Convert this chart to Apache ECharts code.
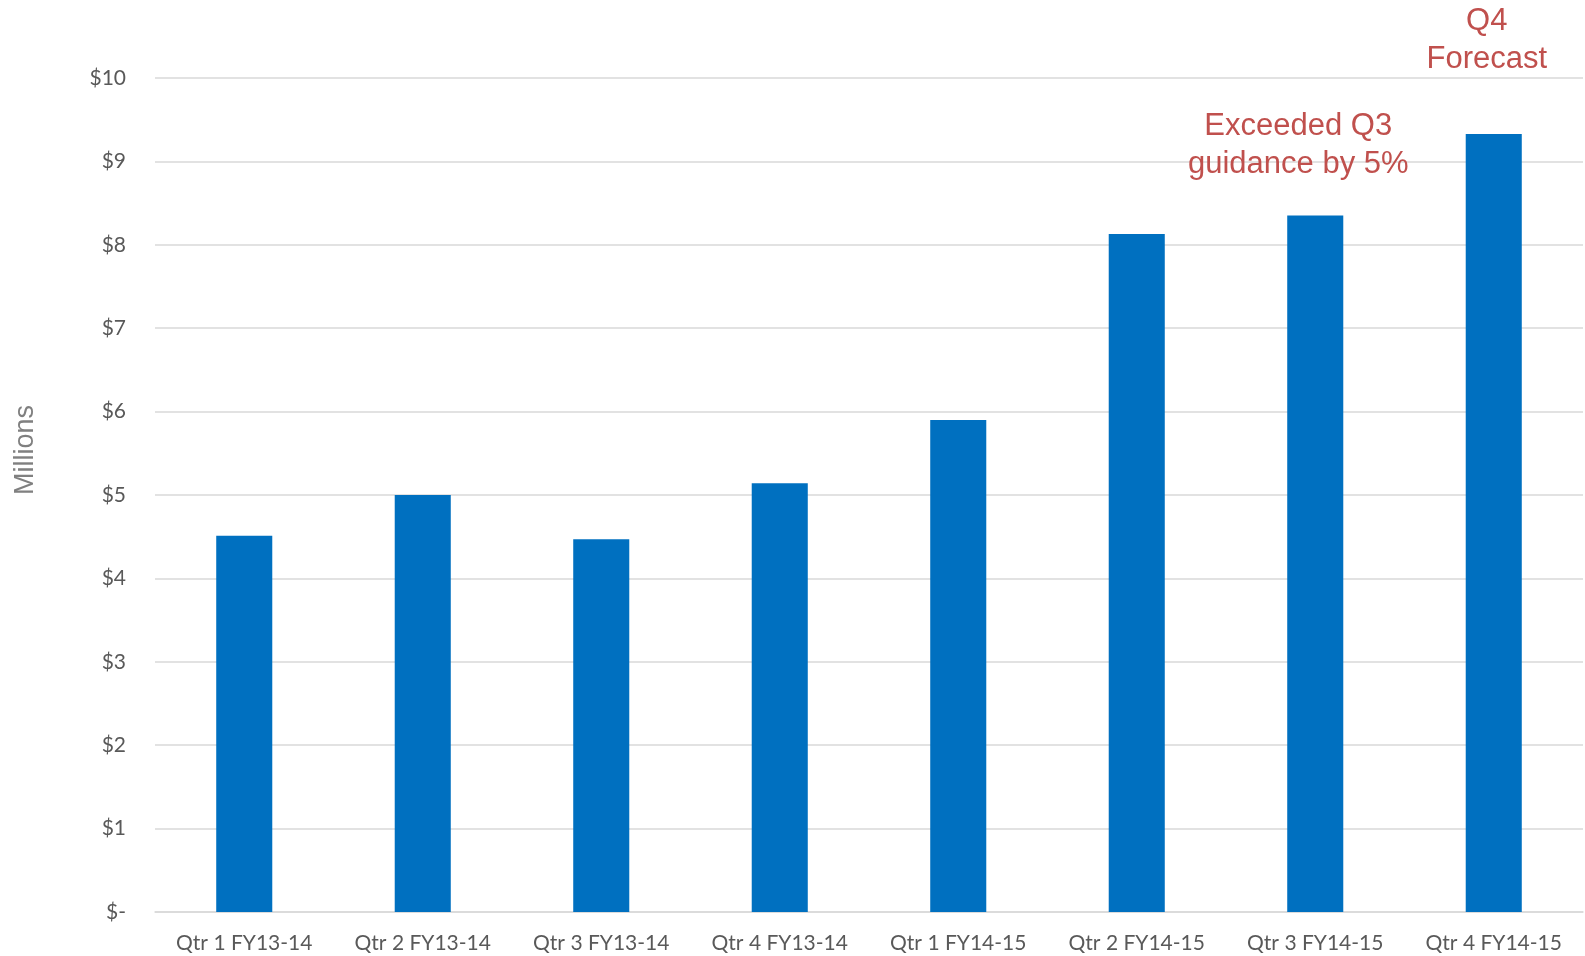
<!DOCTYPE html>
<html>
<head>
<meta charset="utf-8">
<script src="https://cdn.jsdelivr.net/npm/echarts@6/dist/echarts.min.js"></script>
<style>
html,body{margin:0;padding:0;background:#fff;}
#chart{width:1585px;height:956px;}
</style>
</head>
<body>
<div id="chart"></div>
<script>
const categories = ['Qtr 1 FY13-14','Qtr 2 FY13-14','Qtr 3 FY13-14','Qtr 4 FY13-14','Qtr 1 FY14-15','Qtr 2 FY14-15','Qtr 3 FY14-15','Qtr 4 FY14-15'];
const revenue = [4.51, 5.00, 4.47, 5.14, 5.90, 8.13, 8.35, 9.33];
const annotations = ['', '', '', '', '', '', 'Exceeded Q3\nguidance by 5%', 'Q4\nForecast'];
const yTicks = [0,1,2,3,4,5,6,7,8,9,10];
const yTickLabels = ['$-','$1','$2','$3','$4','$5','$6','$7','$8','$9','$10'];
const axisName = 'Millions';

const chart = echarts.init(document.getElementById('chart'));
const labelCfg = [null,null,null,null,null,null,{distance:32, offset:[-17,0]},{distance:55, offset:[-7,0]}];
chart.setOption({
  animation:false,
  grid:{left:155,right:2,top:78,bottom:44,containLabel:false},
  graphic:[{
    type:'text',
    x:26, y:450,
    rotation:Math.PI/2,
    style:{text:axisName,fill:'#808080',fontFamily:'Liberation Sans',fontSize:27,align:'center',verticalAlign:'middle'}
  }],
  xAxis:{
    type:'category',
    data:categories,
    axisLine:{show:true,lineStyle:{color:'#D9D9D9',width:1.5}},
    axisTick:{show:false},
    axisLabel:{color:'#595959',fontFamily:'Lato',fontSize:21,margin:21}
  },
  yAxis:{
    type:'value',
    min:0,max:10,interval:1,
    axisLine:{show:false},
    axisTick:{show:false},
    splitLine:{lineStyle:{color:'#D9D9D9',width:1.5}},
    axisLabel:{color:'#595959',fontFamily:'Lato',fontSize:21,margin:29,
      formatter:function(v){const i=yTicks.indexOf(v);return i>=0?yTickLabels[i]:'';}}
  },
  series:[{
    type:'bar',
    barWidth:'31.4%',
    itemStyle:{color:'#0070C0'},
    data:revenue.map(function(v,i){
      const d={value:v};
      if(annotations[i]){
        d.label={show:true,position:'top',formatter:annotations[i],
          color:'#C0504D',fontFamily:'Liberation Sans',fontSize:31,lineHeight:38,
          distance:labelCfg[i].distance,offset:labelCfg[i].offset,align:'center'};
      }
      return d;
    })
  }]
});
</script>
</body>
</html>
